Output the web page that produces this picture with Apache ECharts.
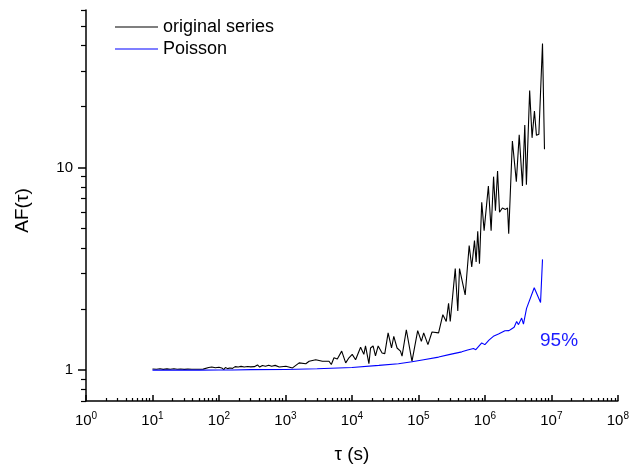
<!DOCTYPE html>
<html>
<head>
<meta charset="utf-8">
<script src="https://cdn.jsdelivr.net/npm/echarts@6/dist/echarts.min.js"></script>
<style>
  html, body { margin: 0; padding: 0; background: #fff; }
  #main { width: 632px; height: 469px; }
</style>
</head>
<body>
<div id="main"></div>
<script>
// original series
var tauOrig = [10, 11.5, 13, 14.5, 16.5, 18.5, 21, 23.5, 26.5, 30, 34, 39, 45, 52, 58,
  62, 70, 78, 88, 100, 110, 118, 125, 135, 145, 160, 175, 195, 215, 240, 270, 300,
  340, 380, 410, 450, 500, 560, 620, 700, 806, 1016, 1277, 1607, 2024, 2270, 2858,
  3590, 4520, 4896, 5370, 6025, 7015, 8054, 9020, 10100, 11350, 13500, 15100, 16000,
  18000, 19050, 20800, 22600, 24800, 28400, 31200, 35000, 39400, 42600, 47700, 53700,
  56700, 65800, 80000, 97500, 110700, 120000, 139000, 160000, 201000, 233000, 262000,
  284000, 301000, 358000, 391000, 415000, 505000, 580000, 634000, 697000, 738000,
  780000, 828000, 896000, 973000, 1128000, 1240000, 1350000, 1440000, 1550000,
  1660000, 1830000, 2040000, 2190000, 2280000, 2590000, 2970000, 3280000, 3670000,
  3980000, 4210000, 4710000, 5120000, 5560000, 5960000, 6480000, 7350000, 7870000];
var afOrig = [1.008, 1.004, 1.01, 1.003, 1.009, 1.005, 1.01, 1.004, 1.008, 1.003, 1.006,
  1.004, 1.005, 1.005, 1.006, 1.028, 1.025, 1.03, 1.022, 1.027, 1.02, 1.0, 1.025,
  1.012, 1.02, 1.015, 1.035, 1.03, 1.038, 1.03, 1.036, 1.032, 1.035, 1.055, 1.03,
  1.048, 1.04, 1.052, 1.04, 1.05, 1.03, 1.04, 1.02, 1.08, 1.07, 1.10, 1.12, 1.10,
  1.10, 1.06, 1.145, 1.13, 1.235, 1.08, 1.145, 1.19, 1.12, 1.29, 1.19, 1.31, 1.07,
  1.28, 1.31, 1.17, 1.31, 1.21, 1.2, 1.52, 1.28, 1.46, 1.28, 1.235, 1.167, 1.575,
  1.10, 1.56, 1.38, 1.52, 1.33, 1.535, 1.52, 1.87, 1.73, 2.13, 1.73, 3.16, 1.95,
  3.16, 2.34, 4.11, 3.22, 4.35, 3.41, 4.83, 3.34, 6.72, 4.87, 8.09, 4.87, 9.0, 6.1,
  9.6, 6.0, 6.3, 6.2, 6.3, 4.7, 13.5, 8.5, 14.5, 8.1, 16.2, 8.2, 24, 14.0, 19, 14.4,
  14.6, 41, 12.3];

// Poisson (95%) series
var tauPoisson = [10, 20, 50, 100, 160, 170, 300, 1000, 3000, 10000, 25400, 50000,
  80000, 120000, 201000, 300000, 449000, 550000, 673000, 730000, 896000, 1000000,
  1150000, 1340000, 1600000, 2000000, 2300000, 2510000, 2750000, 3000000, 3200000,
  3570000, 3800000, 4230000, 5520000, 6870000, 7350000];
var afPoisson = [0.995, 0.995, 0.995, 0.996, 0.997, 1.0, 1.0, 1.002, 1.01, 1.025,
  1.05, 1.07, 1.094, 1.12, 1.154, 1.19, 1.225, 1.25, 1.272, 1.255, 1.356, 1.33,
  1.4, 1.462, 1.5, 1.557, 1.56, 1.59, 1.62, 1.73, 1.67, 1.8, 1.68, 2.01, 2.54,
  2.15, 3.51];

var xMajorTicks = [1, 10, 100, 1e3, 1e4, 1e5, 1e6, 1e7, 1e8];
var yLabels = [1, 10];

var xMinorTicks = [];
var yMinorTicks = [0.7, 0.8, 0.9];
for (var d = 0; d < 8; d++) {
  for (var k = 2; k <= 9; k++) xMinorTicks.push(k * Math.pow(10, d));
}
for (var k = 2; k <= 9; k++) yMinorTicks.push(k);
for (var k = 2; k <= 6; k++) yMinorTicks.push(k * 10);

function zip(a, b) {
  return a.map(function (v, i) { return [v, b[i]]; });
}

var font = 'Liberation Sans, Arial, sans-serif';
var axisColor = '#000';

var chartDom = document.getElementById('main');
var myChart = echarts.init(chartDom);
var option = {
  animation: false,
  textStyle: { fontFamily: font },
  grid: { left: 86, right: 12, top: 10, bottom: 65 },
  legend: {
    orient: 'vertical',
    left: 110,
    top: 13,
    itemWidth: 43,
    itemHeight: 1,
    itemGap: 4,
    icon: 'rect',
    textStyle: { fontFamily: font, fontSize: 18, color: '#000' },
    data: ['original series', 'Poisson']
  },
  xAxis: [
    {
      type: 'log',
      logBase: 10,
      min: 1,
      max: 1e8,
      name: 'τ (s)',
      nameLocation: 'middle',
      nameGap: 44,
      nameTextStyle: { fontFamily: font, fontSize: 19, color: '#000' },
      axisLine: { lineStyle: { color: axisColor, width: 1.5 } },
      axisTick: { inside: true, length: 6, customValues: xMajorTicks, lineStyle: { color: axisColor, width: 1.5 } },
      axisLabel: {
        customValues: xMajorTicks,
        margin: 10,
        formatter: function (v) {
          return '{b|10}{s|' + Math.round(Math.log10(v)) + '}';
        },
        rich: {
          b: { fontFamily: font, fontSize: 15, color: '#000' },
          s: { fontFamily: font, fontSize: 10, color: '#000', padding: [0, 0, 9, 0] }
        }
      },
      splitLine: { show: false }
    },
    {
      type: 'log',
      logBase: 10,
      min: 1,
      max: 1e8,
      position: 'bottom',
      axisLine: { show: false },
      axisTick: { inside: true, length: 3, customValues: xMinorTicks, lineStyle: { color: axisColor, width: 1.2 } },
      axisLabel: { show: false },
      splitLine: { show: false }
    }
  ],
  yAxis: [
    {
      type: 'log',
      logBase: 10,
      min: 0.7,
      max: 60,
      name: 'AF(τ)',
      nameLocation: 'middle',
      nameRotate: 90,
      nameGap: 54,
      nameTextStyle: { fontFamily: font, fontSize: 19, color: '#000', padding: [0, 0, 0, -10] },
      axisLine: { lineStyle: { color: axisColor, width: 1.5 } },
      axisTick: { length: 8, customValues: yLabels, lineStyle: { color: axisColor, width: 1.5 } },
      axisLabel: { customValues: yLabels, margin: 13, fontFamily: font, fontSize: 15, color: '#000' },
      splitLine: { show: false }
    },
    {
      type: 'log',
      logBase: 10,
      min: 0.7,
      max: 60,
      position: 'left',
      axisLine: { show: false },
      axisTick: { length: 5, customValues: yMinorTicks, lineStyle: { color: axisColor, width: 1.2 } },
      axisLabel: { show: false },
      splitLine: { show: false }
    }
  ],
  graphic: [
    {
      type: 'text',
      left: 540,
      top: 331,
      style: { text: '95%', fill: '#1a1aff', font: '19px ' + font }
    }
  ],
  series: [
    {
      name: 'original series',
      type: 'line',
      showSymbol: false,
      color: '#000',
      lineStyle: { width: 1.1, color: '#000' },
      data: zip(tauOrig, afOrig)
    },
    {
      name: 'Poisson',
      type: 'line',
      showSymbol: false,
      color: '#0000ff',
      lineStyle: { width: 1.1, color: '#0000ff' },
      data: zip(tauPoisson, afPoisson)
    }
  ]
};
option && myChart.setOption(option);
</script>
</body>
</html>
